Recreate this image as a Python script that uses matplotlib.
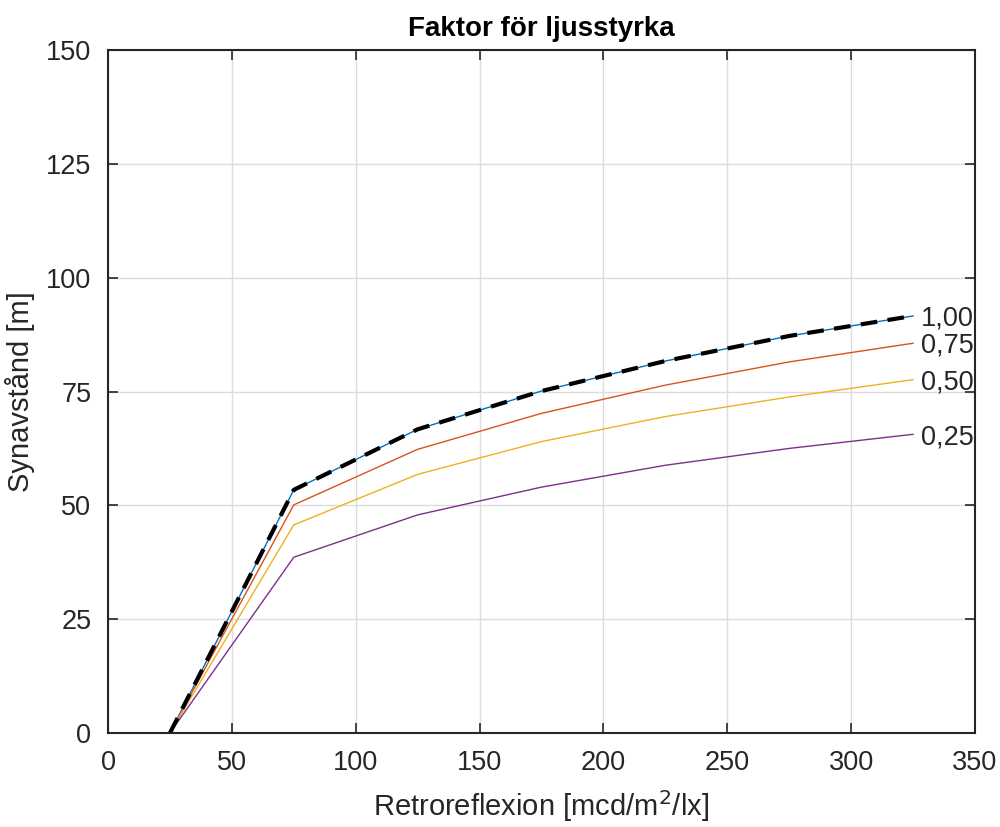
import matplotlib
matplotlib.use("Agg")
import matplotlib.pyplot as plt

plt.rcParams['font.family'] = ['Liberation Sans', 'DejaVu Sans']

retro = [25, 75, 125, 175, 225, 275, 325]
faktor_labels = ["1,00", "0,75", "0,50", "0,25"]
avstand_100 = [0, 53.4, 66.7, 75.1, 81.7, 87.2, 91.6]
avstand_075 = [0, 50.1, 62.3, 70.2, 76.4, 81.5, 85.6]
avstand_050 = [0, 45.7, 56.8, 64.0, 69.5, 73.8, 77.6]
avstand_025 = [0, 38.6, 47.9, 54.0, 58.8, 62.5, 65.6]

series = [avstand_100, avstand_075, avstand_050, avstand_025]
colors = ['#0072BD', '#D95319', '#EDB120', '#7E2F8E']

fig = plt.figure(figsize=(10, 8.27), dpi=100)
ax = fig.add_axes([0.108, 0.1137, 0.867, 0.8258])

for vals, col, lab in zip(series, colors, faktor_labels):
    ax.plot(retro, vals, color=col, linewidth=1.0)
    ax.text(retro[-1] + 3, vals[-1] - 0.6, lab, fontsize=19.5, va='center', ha='left', color='#262626')

# referenskurva ovanpå 1,00
ax.plot(retro, avstand_100, color='black', linewidth=3, linestyle=(0, (4, 2.5)))

ax.set_xlim(0, 350)
ax.set_ylim(0, 150)
ax.set_xticks(range(0, 351, 50))
ax.set_yticks(range(0, 151, 25))
ax.grid(True, color='#dcdcdc', linewidth=1)
ax.set_axisbelow(True)
ax.tick_params(direction='in', length=7, width=1.2, labelsize=19.5, colors='#262626',
               top=True, right=True)
ax.tick_params(axis='x', pad=12)
ax.tick_params(axis='y', pad=12)
for s in ax.spines.values():
    s.set_linewidth(1.5)
    s.set_color('#262626')

ax.set_title("Faktor för ljusstyrka", fontsize=20, fontweight='bold', pad=10)
ax.set_xlabel("Retroreflexion [mcd/m$^2$/lx]", fontsize=21, color='#262626', labelpad=9)
ax.set_ylabel("Synavstånd [m]", fontsize=21, color='#262626', labelpad=8)

fig.savefig("out.png", dpi=100)
